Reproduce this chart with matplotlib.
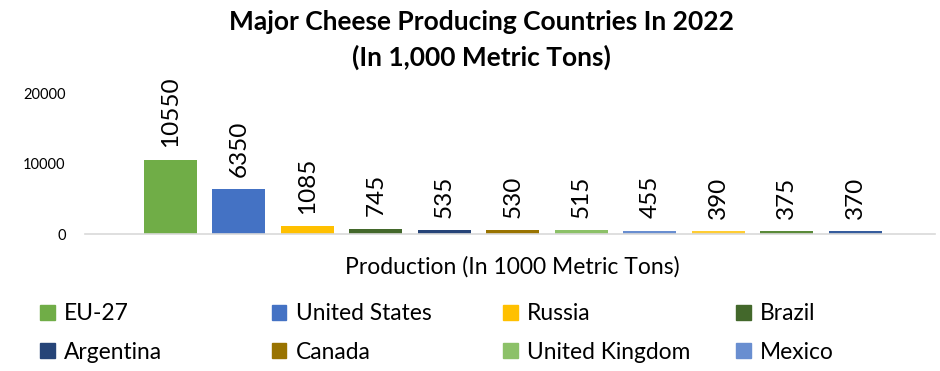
import matplotlib
matplotlib.use("Agg")
import matplotlib.pyplot as plt
from matplotlib.patches import Patch

# data
countries = ["EU-27", "United States", "Russia", "Brazil",
             "Argentina", "Canada", "United Kingdom", "Mexico"]
production = [10550, 6350, 1085, 745, 535, 530, 515, 455, 390, 375, 370]
colors = ["#70AD47", "#4472C4", "#FFC000", "#43682B", "#264478", "#997300",
          "#8CC168", "#698ED0", "#FFCD33", "#5A8A39", "#365C9D"]
yticks = [0, 10000, 20000]

plt.rcParams['font.family'] = ['Lato', 'DejaVu Sans']

fig = plt.figure(figsize=(9.4, 3.71), dpi=100)
ax = fig.add_axes([0.0904, 0.369, 0.904, 0.38])

x = list(range(len(production)))
bars = ax.bar(x, production, width=0.774, color=colors)

for b, v in zip(bars, production):
    ax.annotate(str(v), (b.get_x() + b.get_width() / 2, v),
                xytext=(0, 9), textcoords="offset points",
                rotation=90, ha="center", va="bottom", fontsize=17.5)

ax.set_xlim(-1.248, 11.16)
ax.set_ylim(0, 20000)
ax.set_yticks(yticks)
ax.set_yticklabels([str(t) for t in yticks], fontsize=10.5)
ax.set_xticks([])
ax.tick_params(axis="y", length=0, pad=14)
for s in ["top", "right", "left"]:
    ax.spines[s].set_visible(False)
ax.spines["bottom"].set_color("#D9D9D9")
ax.spines["bottom"].set_linewidth(1.2)

fig.text(0.512, 0.941, "Major Cheese Producing Countries In 2022",
         ha="center", va="center", fontsize=19, fontweight="bold")
fig.text(0.512, 0.846, "(In 1,000 Metric Tons)",
         ha="center", va="center", fontsize=19, fontweight="bold")
fig.text(0.545, 0.28, "Production (In 1000 Metric Tons)", ha="center", va="center",
         fontsize=16.5)

# legend laid out row by row, one small legend per column
col_x = [0.0426, 0.289, 0.535, 0.783]
for c in range(4):
    handles = [Patch(color=colors[c]), Patch(color=colors[c + 4])]
    labels = [countries[c], countries[c + 4]]
    leg = fig.legend(handles, labels, loc="upper left",
                     bbox_to_anchor=(col_x[c], 0.183), frameon=False,
                     fontsize=16.4, handlelength=0.65, handleheight=0.65,
                     handletextpad=0.4, labelspacing=0.77, borderaxespad=0,
                     borderpad=0)

fig.savefig("out.png", dpi=100)
